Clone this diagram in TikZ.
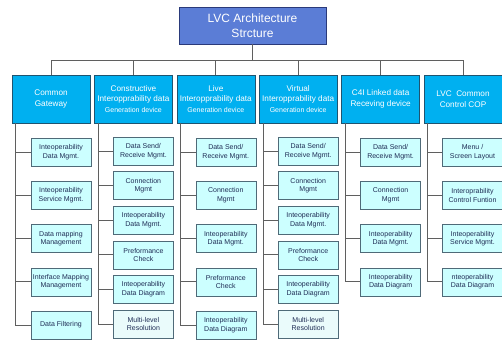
\documentclass[tikz,border=0pt]{standalone}
\usepackage{fontspec}
\setmainfont{Liberation Sans}
\definecolor{topfill}{HTML}{5B7DD6}
\definecolor{topline}{HTML}{2A3A7A}
\definecolor{grpfill}{HTML}{00B0F0}
\definecolor{grpline}{HTML}{1F5470}
\definecolor{taskfill}{HTML}{CCFFFF}
\definecolor{extrafill}{HTML}{EAFBFB}
\definecolor{taskline}{HTML}{4F6A78}
\definecolor{tasktext}{HTML}{1F2D55}
\definecolor{linkgray}{HTML}{5F5F5F}
\newcommand\gendev{\fontsize{7}{9}\selectfont}

\begin{document}
\begin{tikzpicture}[x=1pt,y=1pt,
  top/.style={draw=topline,fill=topfill,text=white,font=\fontsize{12}{15}\selectfont,
    minimum width=147pt,minimum height=37pt,align=center,inner sep=0pt},
  group/.style={draw=grpline,fill=grpfill,text=white,font=\fontsize{8.2}{10.5}\selectfont,
    minimum width=78pt,minimum height=48pt,align=center,inner sep=0pt},
  task/.style={draw=taskline,fill=taskfill,text=tasktext,font=\fontsize{7}{8.5}\selectfont,
    minimum width=60pt,minimum height=28pt,align=center,inner sep=0pt},
  extra/.style={task,fill=extrafill},
  link/.style={draw=linkgray,line width=0.8pt}]
\useasboundingbox (0,0) rectangle (502,-340);
% title and first level
\node[top] (title) at (252.5,-25.5) {LVC Architecture\\Strcture};
\node[group] (gw) at (51,-99) {Common\\Gateway};
\node[group] (cons) at (133.4,-99) {Constructive\\Interopprability data\\{\gendev Generation device}};
\node[group] (live) at (215.8,-99) {Live\\Interopprability data\\{\gendev Generation device}};
\node[group] (virt) at (298.2,-99) {Virtual\\Interopprability data\\{\gendev Generation device}};
\node[group] (cfi) at (380.6,-99) {C4I Linked data\\Receving device};
\node[group] (cop) at (463,-99) {LVC~ Common\\Control COP};
\coordinate (bus) at (252.5,-60);
\draw[link] (title.south) -- (bus);
\draw[link] (gw.north) -- (gw.north |- bus) -- (cop.north |- bus) -- (cop.north);
\foreach \g in {cons,live,virt,cfi}
  \draw[link] (\g.north) -- (\g.north |- bus);
% second level
\foreach [count=\i] \t in {{Inteoperability\\Data Mgmt.},{Inteoperability\\Service Mgmt.},
    {Data mapping\\Management},{Interface Mapping\\Management},{Data Filtering}} {
  \node[task] (gw\i) at (61,-152-43.25*\i+43.25) {\t};
  \draw[link] ([xshift=4pt]gw.south west) |- (gw\i.west);
}
\foreach [count=\i] \t in {{Data Send/\\Receive Mgmt.},{Connection\\Mgmt},
    {Inteoperability\\Data Mgmt.},{Preformance\\Check},{Inteoperability\\Data Diagram}} {
  \node[task] (cons\i) at (143.4,-151-34.6*\i+34.6) {\t};
  \draw[link] ([xshift=4pt]cons.south west) |- (cons\i.west);
  \node[task] (virt\i) at (308.2,-151-34.6*\i+34.6) {\t};
  \draw[link] ([xshift=4pt]virt.south west) |- (virt\i.west);
}
\node[extra] (cons6) at (143.4,-324) {Multi-level\\Resolution};
\draw[link] ([xshift=4pt]cons.south west) |- (cons6.west);
\node[extra] (virt6) at (308.2,-324) {Multi-level\\Resolution};
\draw[link] ([xshift=4pt]virt.south west) |- (virt6.west);
\foreach [count=\i] \t in {{Data Send/\\Receive Mgmt.},{Connection\\Mgmt},
    {Inteoperability\\Data Mgmt.},{Preformance\\Check},{Inteoperability\\Data Diagram}} {
  \node[task] (live\i) at (225.8,-152-43.25*\i+43.25) {\t};
  \draw[link] ([xshift=4pt]live.south west) |- (live\i.west);
}
\foreach [count=\i] \t in {{Data Send/\\Receive Mgmt.},{Connection\\Mgmt},
    {Inteoperability\\Data Mgmt.},{Inteoperability\\Data Diagram}} {
  \node[task] (cfi\i) at (390.6,-152-43.25*\i+43.25) {\t};
  \draw[link] ([xshift=4pt]cfi.south west) |- (cfi\i.west);
}
\foreach [count=\i] \t in {{Menu /\\Screen Layout},{Interoprability\\Control Funtion},
    {Inteoperability\\Service Mgmt.},{nteoperability\\Data Diagram}} {
  \node[task] (cop\i) at (472.5,-152-43.25*\i+43.25) {\t};
  \draw[link] ([xshift=4pt]cop.south west) |- (cop\i.west);
}
\end{tikzpicture}
\end{document}
